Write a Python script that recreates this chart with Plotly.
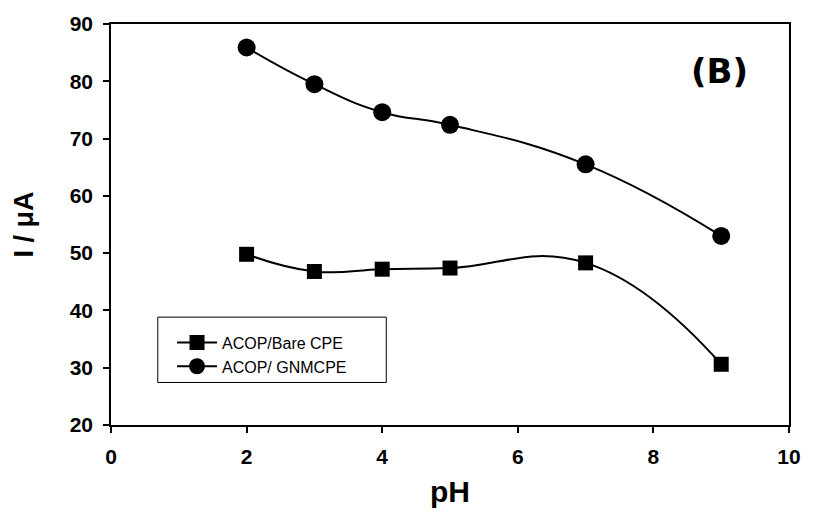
import plotly.graph_objects as go

ph = [2, 3, 4, 5, 7, 9]
bare_cpe = [49.8, 46.8, 47.2, 47.4, 48.3, 30.6]
gnmcpe = [85.9, 79.5, 74.6, 72.4, 65.5, 53.0]

x_ticks = [0, 2, 4, 6, 8, 10]
y_ticks = [20, 30, 40, 50, 60, 70, 80, 90]

fig = go.Figure()
fig.add_trace(go.Scatter(
    x=ph, y=bare_cpe, mode="lines+markers", name="ACOP/Bare CPE",
    line=dict(color="black", width=2, shape="spline", smoothing=1.3),
    marker=dict(symbol="square", size=15, color="black"),
))
fig.add_trace(go.Scatter(
    x=ph, y=gnmcpe, mode="lines+markers", name="ACOP/ GNMCPE",
    line=dict(color="black", width=2, shape="spline", smoothing=1.3),
    marker=dict(symbol="circle", size=18, color="black"),
))

axis_common = dict(
    showgrid=False, zeroline=False, showline=True, linecolor="black",
    linewidth=1.5, mirror=True, ticks="outside", ticklen=6,
    tickcolor="black", tickwidth=1.5, ticklabelstandoff=6,
    tickfont=dict(family="Liberation Sans", size=21, color="black", weight="bold"),
)

fig.update_layout(
    width=813, height=522,
    margin=dict(l=111, r=19, t=20, b=97),
    paper_bgcolor="white", plot_bgcolor="white",
    xaxis=dict(range=[0, 10], tickvals=x_ticks,
               title=dict(text="<b>pH</b>", font=dict(family="Liberation Sans", size=30, color="black"), standoff=14),
               **axis_common),
    yaxis=dict(range=[20, 90], tickvals=y_ticks,
               title=dict(text="<b>I / μA</b>", font=dict(family="Liberation Sans", size=27, color="black"), standoff=28),
               **axis_common),
    legend=dict(x=0.09, y=0.248, xanchor="left", yanchor="top",
                bgcolor="rgba(0,0,0,0)", borderwidth=0,
                font=dict(family="Liberation Sans", size=16, color="black"),
                itemwidth=40, tracegroupgap=0),
    shapes=[dict(type="rect", xref="paper", yref="paper",
                 x0=0.069, x1=0.406, y0=0.106, y1=0.269,
                 line=dict(color="black", width=1), fillcolor="rgba(0,0,0,0)")],
    annotations=[dict(text="<b>(B)</b>", x=0.897, y=0.884, xref="paper", yref="paper",
                      xanchor="center", yanchor="middle", showarrow=False,
                      font=dict(family="DejaVu Sans", size=34, color="black"))],
)

fig.write_html("out.html")
